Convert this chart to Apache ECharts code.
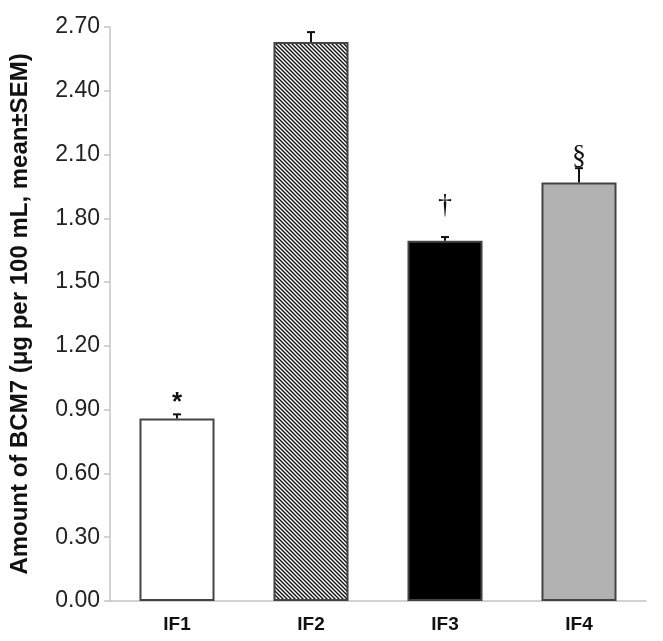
<!DOCTYPE html>
<html>
<head>
<meta charset="utf-8">
<script src="https://cdn.jsdelivr.net/npm/echarts@6/dist/echarts.min.js"></script>
<style>
  html, body { margin: 0; padding: 0; background: #fff; }
  #chart { width: 663px; height: 641px; }
</style>
</head>
<body>
<div id="chart"></div>
<script>
// ---- data ----
var categories = ['IF1', 'IF2', 'IF3', 'IF4'];
var means = [0.859, 2.629, 1.695, 1.968];
var sems = [0.019, 0.047, 0.017, 0.068];
var marks = ['*', '', '\u2020', '\u00A7'];
var markLevels = [0.955, null, 1.858, 2.089];

// hatch pattern for IF2
function hatch() {
  var c = document.createElement('canvas');
  var s = 4;
  c.width = s; c.height = s;
  var g = c.getContext('2d');
  g.fillStyle = '#fff';
  g.fillRect(0, 0, s, s);
  g.strokeStyle = '#111';
  g.lineWidth = 1.4;
  g.beginPath();
  g.moveTo(-1, -1); g.lineTo(s + 1, s + 1);
  g.moveTo(-1, s - 1); g.lineTo(1, s + 1);
  g.moveTo(s - 1, -1); g.lineTo(s + 1, 1);
  g.stroke();
  return c;
}
var fills = ['#ffffff', { image: hatch(), repeat: 'repeat' }, '#000000', '#b2b2b2'];

var chart = echarts.init(document.getElementById('chart'));
chart.setOption({
  animation: false,
  grid: { left: 101, right: 17, top: 27, bottom: 40 },
  xAxis: {
    type: 'category',
    data: categories,
    axisLine: { lineStyle: { color: '#c4c4c4', width: 1.5 } },
    axisTick: { show: false },
    axisLabel: { color: '#111', fontFamily: 'Liberation Sans, Arial', fontWeight: 'bold', fontSize: 19, margin: 14 }
  },
  yAxis: {
    type: 'value',
    min: 0, max: 2.7, interval: 0.3,
    name: 'Amount of BCM7 (\u03BCg per 100 mL, mean\u00B1SEM)',
    nameLocation: 'middle',
    nameGap: 78,
    nameTextStyle: { color: '#111', fontFamily: 'Liberation Sans, Arial', fontWeight: 'bold', fontSize: 24 },
    splitLine: { show: false },
    axisLine: { show: true, lineStyle: { color: '#c4c4c4', width: 1.5 } },
    axisTick: { show: true, length: 6, lineStyle: { color: '#c4c4c4', width: 1.5 } },
    axisLabel: {
      color: '#222', fontFamily: 'Liberation Sans, Arial', fontSize: 23, margin: 10,
      formatter: function (v) { return v.toFixed(2); }
    }
  },
  series: [
    {
      type: 'bar',
      barWidth: '56%',
      data: means.map(function (m, i) {
        return { value: m, itemStyle: { color: fills[i] } };
      }),
      itemStyle: { borderColor: '#444', borderWidth: 2 },
      z: 2
    },
    {
      type: 'custom',
      z: 3,
      data: means.map(function (m, i) { return [i, m, m + sems[i]]; }),
      renderItem: function (params, api) {
        var i = api.value(0);
        var base = api.coord([i, api.value(1)]);
        var top = api.coord([i, api.value(2)]);
        var half = 4;
        return {
          type: 'group',
          children: [
            { type: 'line', shape: { x1: base[0], y1: base[1], x2: top[0], y2: top[1] }, style: { stroke: '#111', lineWidth: 2 } },
            { type: 'line', shape: { x1: top[0] - half, y1: top[1], x2: top[0] + half, y2: top[1] }, style: { stroke: '#111', lineWidth: 2 } }
          ]
        };
      }
    },
    {
      type: 'custom',
      z: 4,
      data: categories.map(function (c, i) { return [i, markLevels[i] == null ? 0 : markLevels[i]]; }),
      renderItem: function (params, api) {
        var i = params.dataIndex;
        if (!marks[i]) return null;
        var p = api.coord([i, markLevels[i]]);
        var isStar = marks[i] === '*';
        return {
          type: 'text',
          style: {
            x: p[0], y: p[1] + (isStar ? 5 : 0),
            text: marks[i],
            align: 'center', verticalAlign: 'middle',
            fill: '#111',
            font: isStar ? 'bold 26px "Liberation Sans", Arial' : '28px "Liberation Serif", "Times New Roman"'
          }
        };
      }
    }
  ]
});
</script>
</body>
</html>
